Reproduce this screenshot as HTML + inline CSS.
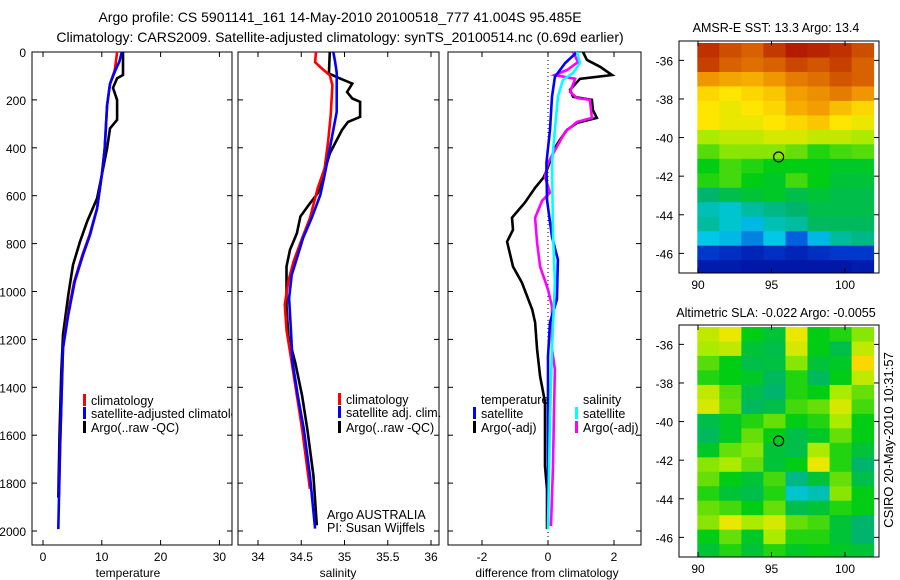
<!DOCTYPE html>
<html><head><meta charset="utf-8"><style>
body{margin:0;background:#fff;}
svg{display:block;font-family:"Liberation Sans",sans-serif;}
text{fill:#000;}
</style></head><body>
<svg id="fig" width="900" height="580" viewBox="0 0 900 580">
<defs>
<clipPath id="c1"><rect x="32" y="52" width="200" height="493"/></clipPath>
<clipPath id="c2"><rect x="238" y="52" width="201" height="493"/></clipPath>
<clipPath id="c3"><rect x="448" y="52" width="193" height="493"/></clipPath>
</defs>
<text x="340" y="22" font-size="14" text-anchor="middle">Argo profile: CS 5901141_161 14-May-2010 20100518_777 41.004S 95.485E</text>
<text x="340" y="42" font-size="14" text-anchor="middle">Climatology: CARS2009. Satellite-adjusted climatology: synTS_20100514.nc (0.69d earlier)</text>
<g id="g1"></g>
<g id="g2"></g>
<g id="g3"></g>
<g id="m1"></g>
<g id="m2"></g>
<text transform="translate(893,440) rotate(-90)" font-size="13" text-anchor="middle">CSIRO 20-May-2010 10:31:57</text>
</svg>
<script>
// ---- temperature panel data ----
const tDepthClim=[0,40,77,133,222,403,514,653,764,847,958,1097,1236,1403,1646,1850];
const tClim=[12.6,12.4,12.2,11.4,10.9,10.5,10.0,9.2,7.9,6.7,5.3,4.2,3.4,3.2,2.9,2.7];
const tDepthSat=[0,40,77,133,222,403,514,653,764,847,958,1097,1236,1403,1646,1992];
const tSat=[13.4,13.0,12.3,11.4,10.9,10.5,10.0,9.2,8.0,6.8,5.4,4.3,3.4,3.2,2.9,2.6];
const tDepthArgo=[0,96,110,150,200,283,319,402,514,611,708,792,889,1014,1181,1347,1600,1860];
const tArgo=[13.6,13.6,12.6,11.9,12.6,12.6,11.4,10.9,10.0,9.2,7.5,6.3,5.1,4.3,3.4,3.1,2.8,2.6];
const tTicks=[0,10,20,30];
const depthTicks=[0,200,400,600,800,1000,1200,1400,1600,1800,2000];
// ---- salinity panel data ----
const sDepthClim=[0,42,63,97,139,264,375,486,569,694,778,875,958,1055,1160,1296,1435,1574,1768,1824];
const sClim=[34.67,34.66,34.72,34.83,34.86,34.84,34.81,34.77,34.69,34.60,34.51,34.41,34.35,34.31,34.33,34.39,34.45,34.51,34.58,34.60];
const sDepthSat=[0,38,86,250,403,514,597,694,778,861,931,1028,1160,1296,1435,1574,1768,1990];
const sSat=[34.87,34.89,34.91,34.91,34.83,34.77,34.72,34.62,34.52,34.45,34.39,34.36,34.38,34.40,34.46,34.53,34.60,34.66];
const sDepthArgo=[0,90,111,132,167,194,208,271,292,326,368,424,521,590,632,687,757,826,896,1063,1186,1296,1435,1574,1768,1976];
const sArgo=[34.83,34.82,34.95,35.09,35.03,35.09,35.18,35.18,35.04,34.97,34.91,34.83,34.75,34.69,34.60,34.49,34.45,34.37,34.33,34.33,34.35,34.43,34.51,34.57,34.64,34.68];
const sTicks=[34,34.5,35,35.5,36];
// ---- difference panel data ----
const dDepthTSat=[0,46,104,187,325,463,617,771,867,1033,1129,1271,1521,1979];
const dTSat=[0.88,0.52,0.21,0.12,0.06,-0.05,-0.03,0.12,0.30,0.27,0.06,0,0,0];
const dDepthTArgo=[0,33,62,96,112,158,187,200,242,275,296,325,367,400,492,525,567,629,692,742,792,896,963,1075,1129,1242,1354,1462,1604,1729,1825,1992];
const dTArgo=[1.06,1.18,1.58,1.94,0.97,0.67,0.76,1.33,1.36,1.48,0.88,0.58,0.36,0.21,-0.03,-0.14,-0.39,-0.70,-1.09,-1.06,-1.24,-1.06,-0.79,-0.48,-0.39,-0.33,-0.24,-0.09,-0.09,-0.09,-0.03,-0.03];
const dDepthSSat=[0,46,87,117,187,325,463,754,963,1242,1521,1992];
const dSSat=[0.88,0.97,0.76,0.45,0.30,0.21,0.12,0.15,0.21,0.12,0.06,0];
const dDepthSArgo=[0,42,75,96,112,167,192,200,275,292,333,396,463,521,587,621,692,796,896,992,1063,1242,1325,1521,1729,1979];
const dSArgo=[0.76,0.91,0.58,0.21,0.82,0.67,0.88,1.27,1.33,0.88,0.52,0.27,0.0,-0.09,0.06,-0.18,-0.39,-0.33,-0.24,0.0,0.12,0.12,0.21,0.18,0.15,0.09];
const dTicks=[-2,0,2];
// ---- map data (colormap index 0-100), 16 rows (north->south) x 8 cols ----
const sstGrid=[
[93,89,86,92,96,95,93,89],[91,86,84,86,90,88,91,86],[78,76,75,78,82,84,88,86],[70,68,70,72,77,79,82,78],
[68,66,68,70,75,77,73,70],[68,66,66,68,70,72,68,66],[60,62,62,64,64,62,62,60],[55,58,58,58,56,52,54,55],
[50,54,52,50,50,50,48,48],[52,54,50,48,54,50,46,46],[40,44,46,48,44,46,44,44],[34,32,36,38,40,44,44,44],
[36,32,28,34,36,42,42,42],[30,28,22,30,18,28,36,38],[12,10,8,10,8,10,12,12],[6,6,5,5,5,5,5,6]];
const slaGrid=[
[62,66,50,46,66,50,52,58],[60,62,46,44,64,50,44,62],[55,50,44,45,58,46,48,70],[52,50,48,42,52,42,50,62],
[62,55,44,40,52,50,60,56],[64,56,42,44,54,56,64,54],[44,48,52,56,50,52,60,50],[42,48,56,50,44,48,56,50],
[48,56,58,46,44,60,52,46],[58,60,56,46,50,66,52,40],[56,50,46,54,38,46,56,44],[52,46,44,52,32,34,58,50],
[56,54,50,56,44,46,52,50],[58,66,60,64,56,54,46,40],[50,56,48,60,52,52,46,40],[46,52,46,52,48,50,48,46]];
const latTicks=[-36,-38,-40,-42,-44,-46];
const lonTicks=[90,95,100];
const argoLon=95.485, argoLat=-41.004;

const NS='http://www.w3.org/2000/svg';
function mk(tag,attrs,parent){const e=document.createElementNS(NS,tag);for(const k in attrs)e.setAttribute(k,attrs[k]);parent.appendChild(e);return e;}
const Y0=52,YS=0.2395;
const yD=d=>Y0+d*YS;

function panel(g,x0,x1,xs,xticks,clip,xlabel,labelX,showY){
  const r=mk('rect',{x:x0,y:52,width:x1-x0,height:493,fill:'none',stroke:'#000','stroke-width':1},g);
  
  
  depthTicks.forEach(d=>{const y=yD(d);
    mk('line',{x1:x0,x2:x0+5,y1:y,y2:y,stroke:'#000'},g);mk('line',{x1:x1,x2:x1-5,y1:y,y2:y,stroke:'#000'},g);
    if(showY){const t=mk('text',{x:x0-6,y:y+5,'font-size':12,'text-anchor':'end'},g);t.textContent=d;
      
      }
  });
  xticks.forEach(v=>{const x=xs(v);
    mk('line',{x1:x,x2:x,y1:545,y2:540,stroke:'#000'},g);mk('line',{x1:x,x2:x,y1:52,y2:57,stroke:'#000'},g);
    const t=mk('text',{x:x,y:561,'font-size':12,'text-anchor':'middle'},g);t.textContent=v;
    
    
  });
  const t=mk('text',{x:labelX,y:577,'font-size':12,'text-anchor':'middle'},g);t.textContent=xlabel;
  
  
}
function line(g,xs,depths,vals,color,name,clip){
  const pts=depths.map((d,i)=>xs(vals[i]).toFixed(1)+','+yD(d).toFixed(1)).join(' ');
  const p=mk('polyline',{points:pts,fill:'none',stroke:color,'stroke-width':2.6,'clip-path':'url(#'+clip+')'},g);
  
  
}
function legend(g,x,y,color,label,name,clip){
  mk('rect',{x:x,y:y-6,width:3,height:12,fill:color},g);
  const t=mk('text',{x:x+8,y:y+5,'font-size':12.5,'clip-path':clip?'url(#'+clip+')':''},g);t.textContent=label;
  
  
}
// panel 1
const g1=document.getElementById('g1');const xT=v=>43+v*5.88;
panel(g1,32,232,xT,tTicks,'c1','temperature',128,true);
line(g1,xT,tDepthArgo,tArgo,'#000','argo-temperature-line','c1');
line(g1,xT,tDepthClim,tClim,'#f00','climatology-temperature-line','c1');
line(g1,xT,tDepthSat,tSat,'#00f','satellite-temperature-line','c1');
legend(g1,83,400,'#f00','climatology','legend-climatology','c1');
legend(g1,83,413,'#00f','satellite-adjusted climatology','legend-satellite-adjusted','c1');
legend(g1,83,427,'#000','Argo(..raw -QC)','legend-argo','c1');
// panel 2
const g2=document.getElementById('g2');const xS=v=>258+(v-34)*86.5;
panel(g2,238,439,xS,sTicks,'c2','salinity',338,false);
line(g2,xS,sDepthArgo,sArgo,'#000','argo-salinity-line','c2');
line(g2,xS,sDepthClim,sClim,'#f00','climatology-salinity-line','c2');
line(g2,xS,sDepthSat,sSat,'#00f','satellite-salinity-line','c2');
legend(g2,338,399,'#f00','climatology','legend-climatology');
legend(g2,338,412,'#00f','satellite adj. clim.','legend-satellite-adj');
legend(g2,338,427,'#000','Argo(..raw -QC)','legend-argo');
let t=mk('text',{x:327,y:519,'font-size':12.5},g2);t.textContent='Argo AUSTRALIA';


t=mk('text',{x:327,y:532,'font-size':12.5},g2);t.textContent='PI: Susan Wijffels';


// panel 3
const g3=document.getElementById('g3');const xDf=v=>548+v*33;
panel(g3,448,641,xDf,dTicks,'c3','difference from climatology',547,false);
mk('line',{x1:xDf(0),x2:xDf(0),y1:52,y2:545,stroke:'#000','stroke-width':1,'stroke-dasharray':'1,3'},g3);
line(g3,xDf,dDepthTArgo,dTArgo,'#000','argo-temperature-diff-line','c3');
line(g3,xDf,dDepthSArgo,dSArgo,'#f0f','argo-salinity-diff-line','c3');
line(g3,xDf,dDepthTSat,dTSat,'#00f','satellite-temperature-diff-line','c3');
line(g3,xDf,dDepthSSat,dSSat,'#0ff','satellite-salinity-diff-line','c3');
t=mk('text',{x:481,y:404,'font-size':12.5},g3);t.textContent='temperature';


t=mk('text',{x:583,y:404,'font-size':12.5},g3);t.textContent='salinity';


legend(g3,473,413,'#00f','satellite','legend-temp-satellite');
legend(g3,473,427,'#000','Argo(-adj)','legend-temp-argo');
legend(g3,575,413,'#0ff','satellite','legend-sal-satellite');
legend(g3,575,427,'#f0f','Argo(-adj)','legend-sal-argo');
// colormap
const stops=[[0,[0,0,140]],[0.15,[0,70,220]],[0.3,[0,200,230]],[0.4,[0,180,110]],[0.5,[0,205,20]],[0.6,[170,235,0]],[0.68,[255,230,0]],[0.78,[240,150,0]],[0.88,[210,85,0]],[1,[165,0,0]]];
function cmap(v){v=Math.max(0,Math.min(1,v/100));for(let i=1;i<stops.length;i++){if(v<=stops[i][0]){const a=stops[i-1],b=stops[i];const f=(v-a[0])/(b[0]-a[0]);return 'rgb('+a[1].map((c,j)=>Math.round(c+(b[1][j]-c)*f)).join(',')+')';}}return 'rgb(165,0,0)';}
function drawMap(g,top,bottom,grid,title,titleY){
  const lonX=l=>698+(l-90)*14.7, latY=a=>top+ (-35.1-a)*19.3 +2;
  const lat0=-35.1,dLat=0.75,lon0=89.95,dLon=1.5;
  grid.forEach((row,r)=>row.forEach((v,c)=>{
    const x=lonX(lon0+c*dLon),y=Math.max(top,latY(lat0-r*dLat));
    const y2=Math.min(bottom,latY(lat0-(r+1)*dLat));
    const cell=mk('rect',{x:x.toFixed(1),y:y.toFixed(1),width:(dLon*14.7+0.5).toFixed(1),height:(y2-y+0.5).toFixed(1),fill:cmap(v)},g);
    
    
  }));
  mk('rect',{x:875,y:top,width:4,height:bottom-top,fill:'#fff'},g);
  const b=mk('rect',{x:679,y:top,width:200,height:bottom-top,fill:'none',stroke:'#000'},g);
  
  
  latTicks.forEach(a=>{const y=latY(a);mk('line',{x1:679,x2:684,y1:y,y2:y,stroke:'#000'},g);mk('line',{x1:879,x2:874,y1:y,y2:y,stroke:'#000'},g);
    const tt=mk('text',{x:673,y:y+5,'font-size':12,'text-anchor':'end'},g);tt.textContent=a;
    
    });
  lonTicks.forEach(l=>{const x=lonX(l);mk('line',{x1:x,x2:x,y1:bottom,y2:bottom-5,stroke:'#000'},g);mk('line',{x1:x,x2:x,y1:top,y2:top+5,stroke:'#000'},g);
    const tt=mk('text',{x:x,y:bottom+16,'font-size':12,'text-anchor':'middle'},g);tt.textContent=l;
    
    });
  const c=mk('circle',{cx:lonX(argoLon),cy:latY(argoLat),r:5,fill:'none',stroke:'#000','stroke-width':1.2},g);
  
  
  const tt=mk('text',{x:776,y:titleY,'font-size':12.5,'text-anchor':'middle'},g);tt.textContent=title;
  
  
}
drawMap(document.getElementById('m1'),41,273,sstGrid,'AMSR-E SST: 13.3 Argo: 13.4',32);
drawMap(document.getElementById('m2'),325,557,slaGrid,'Altimetric SLA: -0.022 Argo: -0.0055',317);
</script>
</body></html>
